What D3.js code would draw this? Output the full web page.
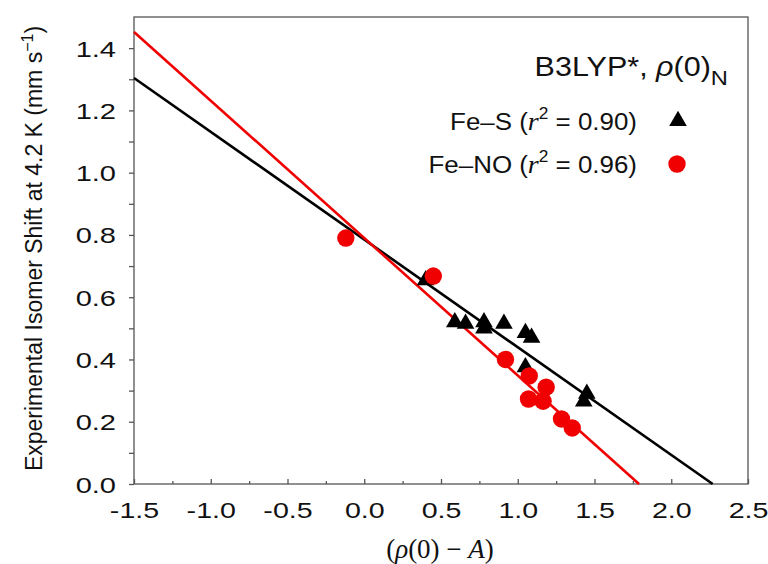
<!DOCTYPE html>
<html>
<head>
<meta charset="utf-8">
<script src="https://cdn.jsdelivr.net/npm/d3@7"></script>
<style>
  html, body { margin: 0; padding: 0; background: #fff; }
  svg text { font-family: "Liberation Sans", Arial, sans-serif; fill: #111; }
</style>
</head>
<body>
<div id="chart"></div>
<script>
// data
var feS_x = [0.40, 0.59, 0.66, 0.78, 0.78, 0.91, 1.05, 1.09, 1.05, 1.45, 1.43];
var feS_y = [0.655, 0.52, 0.515, 0.52, 0.50, 0.515, 0.485, 0.47, 0.375, 0.29, 0.265];
var feNO_x = [-0.12, 0.45, 0.92, 1.075, 1.185, 1.07, 1.165, 1.285, 1.355];
var feNO_y = [0.79, 0.668, 0.40, 0.347, 0.311, 0.273, 0.266, 0.209, 0.18];
// fitted lines, end points
var feS_fit = [[-1.5, 1.304], [2.27, 0]];
var feNO_fit = [[-1.5, 1.452], [1.79, 0]];
var xTicks = [-1.5, -1.0, -0.5, 0.0, 0.5, 1.0, 1.5, 2.0, 2.5];
var xMinor = [-1.25, -0.75, -0.25, 0.25, 0.75, 1.25, 1.75, 2.25];
var yTicks = [0.0, 0.2, 0.4, 0.6, 0.8, 1.0, 1.2, 1.4];
var yMinor = [0.1, 0.3, 0.5, 0.7, 0.9, 1.1, 1.3];

var W = 768, H = 564;
var box = { left: 134, right: 748, top: 17, bottom: 484 };
var RED = '#f00000';
var fmt = function(d) { return d3.format('.1f')(d).replace('\u2212', '-'); };

var svg = d3.select('#chart').append('svg').attr('width', W).attr('height', H);

var x = d3.scaleLinear().domain([-1.5, 2.5]).range([box.left, box.right]);
var y = d3.scaleLinear().domain([0, 1.5]).range([box.bottom, box.top]);

// the lettering of the original is wider than the font, so stretch it sideways
function place(t, px, py, sx) {
  return t.attr('x', 0).attr('y', 0).attr('dy', null)
    .attr('transform', 'translate(' + px + ',' + py + ') scale(' + sx + ',1)');
}

// frame
svg.append('rect')
  .attr('x', box.left).attr('y', box.top)
  .attr('width', box.right - box.left).attr('height', box.bottom - box.top)
  .attr('fill', 'none').attr('stroke', '#555').attr('stroke-width', 1.3);

// x axis: ticks point inward
var xAxis = svg.append('g').attr('transform', 'translate(0,' + box.bottom + ')');
xAxis.append('g').attr('class', 'minor')
  .call(d3.axisBottom(x).tickValues(xMinor).tickSizeInner(-3).tickSizeOuter(0).tickFormat(''));
xAxis.append('g').attr('class', 'major')
  .call(d3.axisBottom(x).tickValues(xTicks).tickSizeInner(-5).tickSizeOuter(0).tickFormat(fmt));
xAxis.selectAll('.domain').remove();
xAxis.selectAll('line').attr('stroke', '#555').attr('stroke-width', 1.3);
xAxis.select('.major').selectAll('text').each(function() {
  place(d3.select(this), 0, 34, 1.3).attr('font-size', 22)
    .attr('font-family', '"Liberation Sans", Arial, sans-serif').attr('fill', '#111');
});

// y axis: ticks point outward
var yAxis = svg.append('g').attr('transform', 'translate(' + box.left + ',0)');
yAxis.append('g').attr('class', 'minor')
  .call(d3.axisLeft(y).tickValues(yMinor).tickSizeInner(5).tickSizeOuter(0).tickFormat(''));
yAxis.append('g').attr('class', 'major')
  .call(d3.axisLeft(y).tickValues(yTicks).tickSizeInner(5).tickSizeOuter(0).tickFormat(fmt));
yAxis.selectAll('.domain').remove();
yAxis.selectAll('line').attr('stroke', '#555').attr('stroke-width', 1.3);
yAxis.select('.major').selectAll('text').each(function() {
  place(d3.select(this), -18, 8, 1.32).attr('font-size', 22)
    .attr('font-family', '"Liberation Sans", Arial, sans-serif').attr('fill', '#111');
});

// fit lines
var line = d3.line().x(function(d) { return x(d[0]); }).y(function(d) { return y(d[1]); });
svg.append('path').datum(feS_fit).attr('d', line).attr('stroke', '#000').attr('stroke-width', 2.6).attr('fill', 'none');
svg.append('path').datum(feNO_fit).attr('d', line).attr('stroke', RED).attr('stroke-width', 2.6).attr('fill', 'none');

// markers
var tri = d3.symbol().type(d3.symbolTriangle).size(135);
svg.append('g').selectAll('path').data(d3.zip(feS_x, feS_y)).join('path')
  .attr('d', tri)
  .attr('transform', function(d) { return 'translate(' + x(d[0]) + ',' + y(d[1]) + ')'; })
  .attr('fill', '#000');
svg.append('g').selectAll('circle').data(d3.zip(feNO_x, feNO_y)).join('circle')
  .attr('cx', function(d) { return x(d[0]); })
  .attr('cy', function(d) { return y(d[1]); })
  .attr('r', 8.7)
  .attr('fill', RED);

// axis titles
var yl = svg.append('text')
  .attr('transform', 'translate(42,' + ((box.top + box.bottom) / 2 - 2) + ') rotate(-90)')
  .attr('text-anchor', 'middle').attr('font-size', 23);
yl.append('tspan').text('Experimental Isomer Shift at 4.2 K (mm s');
yl.append('tspan').attr('font-size', 16).attr('dy', -9).text('\u22121');
yl.append('tspan').attr('dy', 9).text(')');

var xl = svg.append('text').attr('text-anchor', 'middle')
  .attr('font-size', 27).style('font-family', '"Liberation Serif", "Times New Roman", serif');
place(xl, 440, 558, 1.0);
xl.append('tspan').text('(');
xl.append('tspan').attr('font-style', 'italic').text('\u03c1');
xl.append('tspan').text('(0) \u2212 ');
xl.append('tspan').attr('font-style', 'italic').text('A');
xl.append('tspan').text(')');

// title
var title = svg.append('text').attr('text-anchor', 'end').attr('font-size', 27);
place(title, 728, 76, 1.13);
title.append('tspan').text('B3LYP*, ');
title.append('tspan').attr('font-style', 'italic').text('\u03c1');
title.append('tspan').text('(0)');
title.append('tspan').attr('font-size', 21).attr('dy', 9).text('N');

// legend
var legend = [
  { label: 'Fe\u2013S (', r2: ' = 0.90)', y: 121, kind: 'tri' },
  { label: 'Fe\u2013NO (', r2: ' = 0.96)', y: 164, kind: 'circ' }
];
legend.forEach(function(l) {
  var t = svg.append('text').attr('text-anchor', 'end').attr('font-size', 24);
  place(t, 637, l.y + 9, 1.08);
  t.append('tspan').text(l.label);
  t.append('tspan').attr('font-style', 'italic').style('font-family', '"Liberation Serif", serif').attr('font-size', 26).text('r');
  t.append('tspan').attr('font-size', 16).attr('dy', -11).text('2');
  t.append('tspan').attr('dy', 11).text(l.r2);
  if (l.kind === 'tri') {
    svg.append('path').attr('d', tri).attr('transform', 'translate(678,' + l.y + ')').attr('fill', '#000');
  } else {
    svg.append('circle').attr('cx', 677).attr('cy', l.y).attr('r', 8.7).attr('fill', RED);
  }
});
</script>
</body>
</html>
